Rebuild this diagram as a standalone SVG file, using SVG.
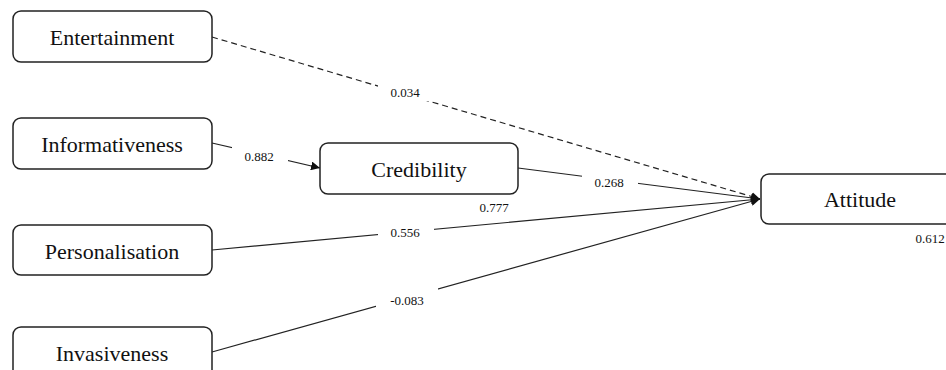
<svg xmlns="http://www.w3.org/2000/svg" width="946" height="370" viewBox="0 0 946 370">
<style>
.box{fill:#fff;stroke:#222;stroke-width:1.5}
.nt{font-family:"Liberation Serif",serif;font-size:22px;fill:#111;text-anchor:middle}
.lt{font-family:"Liberation Serif",serif;font-size:13px;fill:#111;text-anchor:middle}
.ln{stroke:#222;stroke-width:1.2;fill:none}
.bg{fill:#fff}
</style>
<defs>
<marker id="ah" viewBox="0 0 10 10" refX="10" refY="5" markerWidth="9" markerHeight="9" markerUnits="userSpaceOnUse" orient="auto">
<path d="M0,0 L10,5 L0,10 z" fill="#111"/>
</marker>
</defs>
<rect width="946" height="370" fill="#fff"/>
<g id="connectors">
<line class="ln" x1="212" y1="37" x2="760" y2="199" stroke-dasharray="6,4" marker-end="url(#ah)"/>
<line class="ln" x1="212" y1="143" x2="320" y2="168" marker-end="url(#ah)"/>
<line class="ln" x1="518" y1="168" x2="760" y2="199" marker-end="url(#ah)"/>
<line class="ln" x1="212" y1="250" x2="760" y2="199" marker-end="url(#ah)"/>
<line class="ln" x1="212" y1="352" x2="760" y2="199" marker-end="url(#ah)"/>
<rect class="bg" x="378" y="83" width="56" height="18"/>
<text class="lt" x="405" y="97">0.034</text>
<rect class="bg" x="232" y="146" width="56" height="18"/>
<text class="lt" x="259" y="161">0.882</text>
<rect class="bg" x="582" y="173" width="56" height="18"/>
<text class="lt" x="609" y="187">0.268</text>
<rect class="bg" x="378" y="223" width="56" height="18"/>
<text class="lt" x="405" y="237">0.556</text>
<rect class="bg" x="376" y="288" width="62" height="20"/>
<text class="lt" x="407" y="305">-0.083</text>
</g>
<g id="entertainment"><rect class="box" x="13" y="11" width="199" height="51" rx="8"/><text class="nt" x="112" y="45">Entertainment</text></g>
<g id="informativeness"><rect class="box" x="13" y="118" width="199" height="51" rx="8"/><text class="nt" x="112" y="152">Informativeness</text></g>
<g id="personalisation"><rect class="box" x="13" y="225" width="199" height="50" rx="8"/><text class="nt" x="112" y="259">Personalisation</text></g>
<g id="invasiveness"><rect class="box" x="13" y="327" width="199" height="51" rx="8"/><text class="nt" x="112" y="361">Invasiveness</text></g>
<g id="credibility"><rect class="box" x="320" y="143" width="198" height="51" rx="8"/><text class="nt" x="419" y="177">Credibility</text><text class="lt" x="494" y="212">0.777</text></g>
<g id="attitude"><rect class="box" x="761" y="174" width="198" height="50" rx="8"/><text class="nt" x="860" y="207">Attitude</text><text class="lt" x="930" y="243">0.612</text></g>
</svg>
